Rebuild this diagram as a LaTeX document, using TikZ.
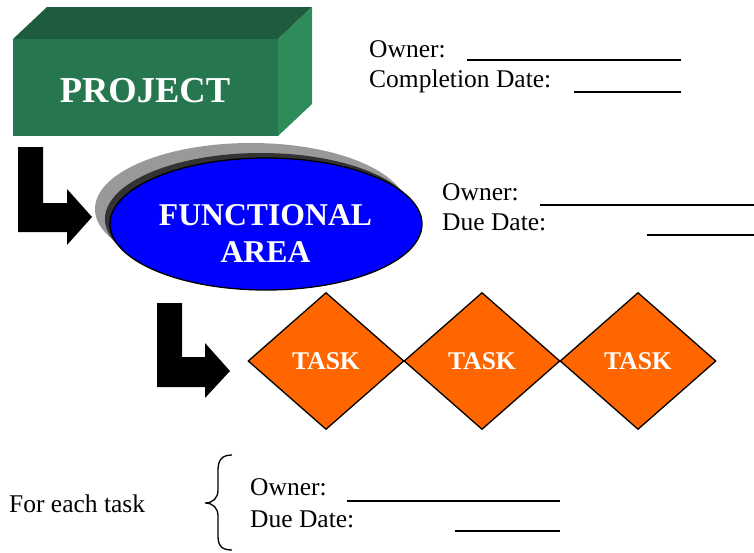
\documentclass[tikz,border=0pt]{standalone}
\usepackage{fontspec}
\setmainfont{Liberation Serif}
\usetikzlibrary{shapes.geometric}
\definecolor{boxfront}{RGB}{38,118,80}
\definecolor{boxtop}{RGB}{31,92,62}
\definecolor{boxside}{RGB}{46,139,90}
\definecolor{taskorange}{RGB}{255,102,0}
\definecolor{shadowdark}{RGB}{51,51,51}
\definecolor{shadowlight}{RGB}{153,153,153}
\tikzset{
  lbl/.style={anchor=base west, inner sep=0pt, font=\fontsize{25.5}{30}\selectfont},
  blank/.style={line width=1.2pt, black},
  whitetxt/.style={text=white, inner sep=0pt},
  blockarrow/.style={fill=black},
  taskbox/.style={diamond, draw=black, line width=1.3pt, fill=taskorange,
    minimum width=156pt, minimum height=137pt, inner sep=0pt, text=white,
    font=\bfseries\fontsize{25.5}{30}\selectfont},
}
\begin{document}
\begin{tikzpicture}[x=1pt,y=-1pt]
\useasboundingbox (0,0) rectangle (754,552);

% PROJECT box
\fill[boxtop] (13,39) -- (47,7) -- (312,7) -- (278,39) -- cycle;
\fill[boxside] (278,39) -- (312,7) -- (312,104) -- (278,136) -- cycle;
\node[fill=boxfront, minimum width=265pt, minimum height=97pt, anchor=north west, inner sep=0pt] (project) at (13,39) {};
\node[whitetxt, anchor=base, font=\bfseries\fontsize{36.5}{40}\selectfont] (projectlbl) at (145,102) {PROJECT};

% top text
\node[lbl] (own1) at (369,57) {Owner:};
\node[lbl] (comp1) at (369,87) {Completion Date:};
\draw[blank] (467,60) -- (681,60);
\draw[blank] (574,92) -- (681,92);

% first block arrow
\fill[blockarrow] (18,147) -- (43,147) -- (43,203) -- (67,203) -- (67,189) -- (92,217)
  -- (67,245) -- (67,232) -- (18,232) -- cycle;

% FUNCTIONAL AREA ellipse
\fill[shadowlight] (251,209) ellipse (156pt and 66pt);
\fill[shadowdark] (261,219) ellipse (156pt and 66pt);
\node[ellipse, draw=black, line width=1.3pt, fill=blue, minimum width=312pt, minimum height=132pt, inner sep=0pt] (func) at (266,224) {};
\node[whitetxt, anchor=base, font=\bfseries\fontsize{31.7}{36}\selectfont] (funclbl1) at (265.5,225) {FUNCTIONAL};
\node[whitetxt, anchor=base, font=\bfseries\fontsize{31.7}{36}\selectfont] (funclbl2) at (265.5,262) {AREA};

% second text block
\node[lbl] (own2) at (442,200) {Owner:};
\node[lbl] (due2) at (442,230) {Due Date:};
\draw[blank] (540,205) -- (754,205);
\draw[blank] (647,235) -- (754,235);

% second block arrow
\fill[blockarrow] (157,303) -- (182,303) -- (182,357) -- (205,357) -- (205,343) -- (230,371)
  -- (205,398) -- (205,387) -- (157,387) -- cycle;

% tasks
\node[taskbox] (task1) at (326,361) {TASK};
\node[taskbox] (task2) at (482,361) {TASK};
\node[taskbox] (task3) at (638,361) {TASK};

% bottom block
\node[lbl] (foreach) at (9,512) {For each task};
\draw[line width=1.3pt] (232,455) .. controls (222,455) and (218,460) .. (218,470)
  -- (218,490) .. controls (218,498) and (213,503) .. (205,503)
  .. controls (213,503) and (218,508) .. (218,516)
  -- (218,536) .. controls (218,546) and (222,550) .. (232,550);
\node[lbl] (own3) at (250,495) {Owner:};
\node[lbl] (due3) at (250,527) {Due Date:};
\draw[blank] (347,501) -- (560,501);
\draw[blank] (455,531) -- (560,531);
\end{tikzpicture}
\end{document}
